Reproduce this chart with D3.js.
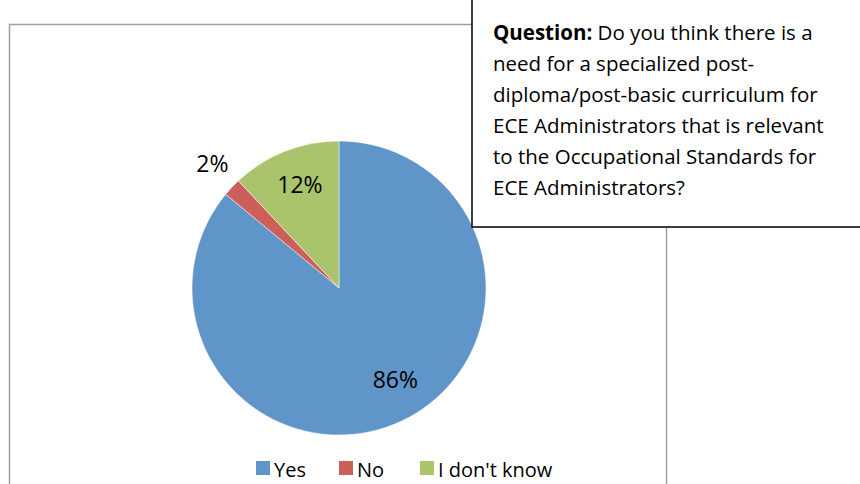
<!DOCTYPE html>
<html lang="en">
<head>
<meta charset="UTF-8">
<script src="https://d3js.org/d3.v7.min.js"></script>
<title>Pie</title>
<style>
  body { margin: 0; background: #fff; }
  svg text { font-family: "Open Sans", "Liberation Sans", sans-serif; fill: #000; }
</style>
</head>
<body>
<div id="chart"></div>
<script>
const categories = ["Yes", "No", "I don't know"];
const values = [86, 2, 12];
const colors = ["#5f95c8", "#cd5f5b", "#a9c46a"];
const questionLines = [
  ["Question:", " Do you think there is a"],
  ["", "need for a specialized post-"],
  ["", "diploma/post-basic curriculum for"],
  ["", "ECE Administrators that is relevant"],
  ["", "to the Occupational Standards for"],
  ["", "ECE Administrators?"]
];

const width = 860, height = 484;
const cx = 339, cy = 288, r = 147;

const svg = d3.select("#chart").append("svg")
  .attr("width", width)
  .attr("height", height);

// chart frame
svg.append("rect")
  .attr("x", 9.5).attr("y", 24.5)
  .attr("width", 657).attr("height", 480)
  .attr("fill", "#fff")
  .attr("stroke", "#a0a0a0")
  .attr("stroke-width", 1.5);

const data = categories.map((c, i) => ({ name: c, value: values[i], color: colors[i] }));

const pie = d3.pie().sort(null).value(d => d.value);
const arc = d3.arc().innerRadius(0).outerRadius(r);
const arcs = pie(data);

const g = svg.append("g").attr("transform", `translate(${cx},${cy})`);

g.selectAll("path")
  .data(arcs)
  .enter()
  .append("path")
  .attr("d", arc)
  .attr("fill", d => d.data.color)
  .attr("stroke", "#fff")
  .attr("stroke-width", 0.5);

// labels: inside for big slices, outside for the small one
const inner = d3.arc().innerRadius(r * 0.74).outerRadius(r * 0.74);
const outer = d3.arc().innerRadius(r * 1.2).outerRadius(r * 1.2);
const nudge = [[10, -6], [2, -3], [1, -2]];
g.selectAll("text.lbl")
  .data(arcs)
  .enter()
  .append("text")
  .attr("class", "lbl")
  .attr("transform", (d, i) => {
    const p = (d.data.value < 5 ? outer : inner).centroid(d);
    return `translate(${p[0] + nudge[i][0]},${p[1] + nudge[i][1]})`;
  })
  .attr("text-anchor", "middle")
  .attr("dy", "0.35em")
  .style("font-size", "23px")
  .text(d => d.data.value + "%");

// legend
const legendX = [256, 339, 420];
const lg = svg.append("g");
data.forEach((d, i) => {
  lg.append("rect")
    .attr("x", legendX[i]).attr("y", 461)
    .attr("width", 14).attr("height", 14)
    .attr("fill", d.color);
  lg.append("text")
    .attr("x", legendX[i] + 18).attr("y", 477)
    .style("font-size", "20px")
    .text(d.name);
});

// question box
svg.append("rect")
  .attr("x", 472).attr("y", -2)
  .attr("width", 400).attr("height", 229)
  .attr("fill", "#fff")
  .attr("stroke", "#000")
  .attr("stroke-width", 1.5);

const qt = svg.append("g");
questionLines.forEach((l, i) => {
  const t = qt.append("text")
    .attr("x", 493).attr("y", 40 + i * 31)
    .style("font-size", "20.5px");
  if (l[0]) t.append("tspan").style("font-weight", "bold").text(l[0]);
  t.append("tspan").text(l[1]);
});
</script>
</body>
</html>
